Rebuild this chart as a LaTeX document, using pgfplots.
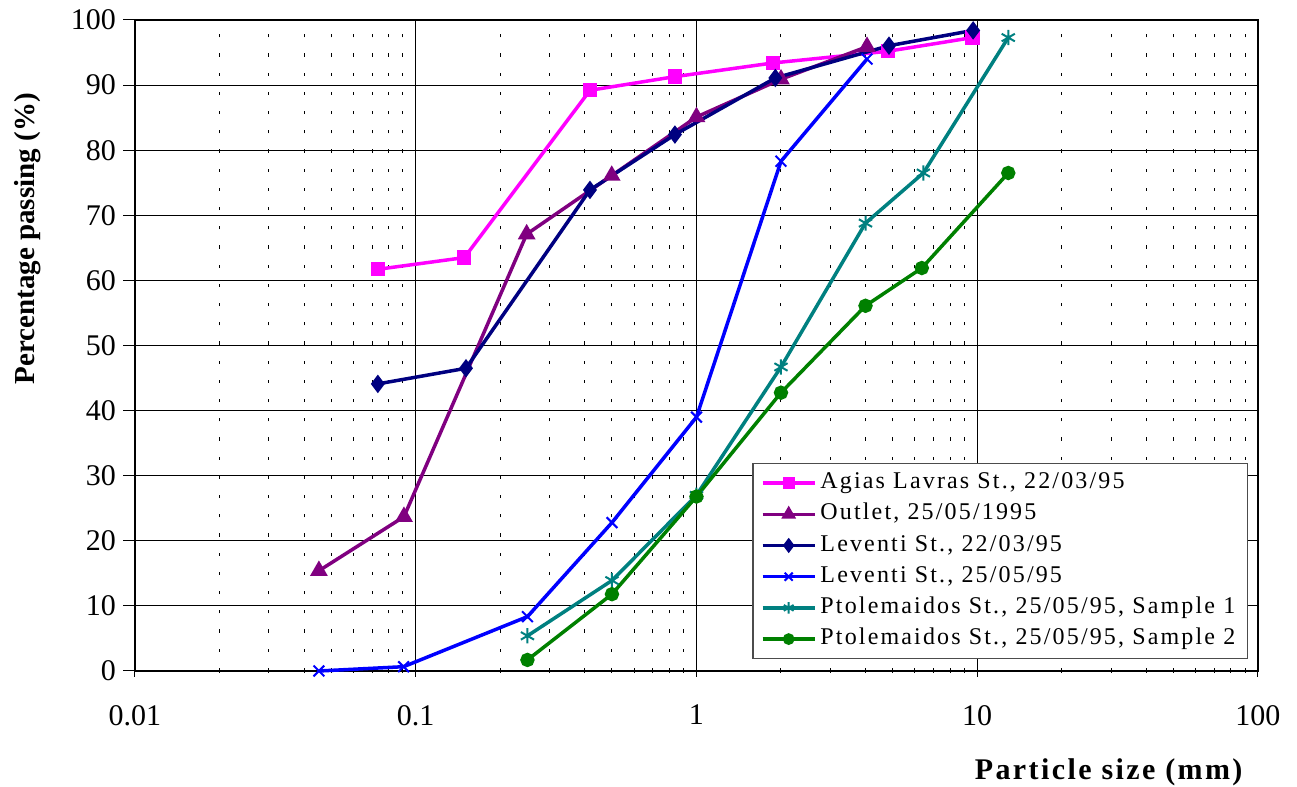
\documentclass[border=0pt]{standalone}
\usepackage{fontspec}
\setmainfont{Liberation Serif}
\newfontfamily\lsfont{Liberation Serif}[LetterSpace=9.0]
\newfontfamily\lsfontX{Liberation Serif}[LetterSpace=8.0]
\usepackage{pgfplots}
\pgfplotsset{compat=1.18}
\definecolor{cMag}{RGB}{255,0,255}
\definecolor{cPur}{RGB}{128,0,128}
\definecolor{cNavy}{RGB}{0,0,128}
\definecolor{cBlue}{RGB}{0,0,255}
\definecolor{cTeal}{RGB}{0,128,128}
\definecolor{cGreen}{RGB}{0,128,0}
\begin{document}
\begin{tikzpicture}
\begin{axis}[
  name=ax, at={(0,0)}, anchor=south west,
  scale only axis, width=561.5pt, height=325.5pt,
  xmode=log, xmin=0.01, xmax=100, ymin=0, ymax=100,
  clip=false,
  xtick={0.01,0.1,1,10,100}, xticklabels={0.01,0.1,1,10,100},
  minor xtick={0.02,0.03,0.04,0.05,0.06,0.07,0.08,0.09,0.2,0.3,0.4,0.5,0.6,0.7,0.8,0.9,2,3,4,5,6,7,8,9,20,30,40,50,60,70,80,90},
  ytick={0,10,...,100},
  xmajorgrids, ymajorgrids, xminorgrids,
  major grid style={black, line width=0.5pt},
  minor grid style={black, line width=0.5pt, dash pattern=on 1.6pt off 8pt},
  axis line style={black, line width=0.6pt},
  xtick pos=left, ytick pos=left,
  tick style={black, line width=0.5pt},
  ytick align=outside, xtick align=center,
  major tick length=6pt, minor tick length=2pt,
  tick label style={font=\fontsize{15}{18}\selectfont},
  xticklabel style={yshift=-10.5pt},
  /pgf/number format/assume math mode=true,
  xlabel={Particle size (mm)},
  xlabel style={font=\lsfontX\bfseries\fontsize{15}{18}\selectfont, at={(axis description cs:0.867,-0.155)}, anchor=center},
  ylabel={Percentage passing (\%)},
  ylabel style={font=\bfseries\fontsize{14.5}{17}\selectfont, at={(axis description cs:-0.0953,0.664)}, anchor=center},
  legend style={at={(axis description cs:0.991,0.018)}, anchor=south east,
    draw=black!70, line width=0.6pt, fill=white,
    font=\lsfont\fontsize{12}{13}\selectfont,
    inner xsep=4pt, inner ysep=2pt, row sep=0pt,
    nodes={inner sep=2pt, text height=8.6pt, text depth=3pt}},
  legend cell align=left,
  legend image code/.code={\draw[mark repeat=2, mark phase=2, every mark/.append style={scale=0.75}] plot coordinates {(0pt,0pt) (13pt,0pt) (26pt,0pt)};},
]
\addplot[color=cMag, line width=1.75pt, mark=square*, mark size=2.7pt, mark options={solid}] coordinates {
(0.0732,61.7) (0.149,63.5) (0.4175,89.2) (0.838,91.3) (1.873,93.4) (4.81,95.2) (9.63,97.3)};
\addlegendentry{Agias Lavras St., 22/03/95}
\addplot[color=cPur, line width=1.75pt, mark=triangle*, mark size=3.4pt, mark options={solid}] coordinates {
(0.0452,15.4) (0.0908,23.7) (0.2484,67.1) (0.499,76.1) (1.0,85.1) (2.0,90.9) (4.05,95.9)};
\addlegendentry{Outlet, 25/05/1995}
\addplot[color=cNavy, line width=1.75pt, mark=diamond*, mark size=3.2pt, mark options={solid}] coordinates {
(0.0733,44.1) (0.151,46.5) (0.4175,73.9) (0.838,82.4) (1.91,91.1) (4.85,96.05) (9.67,98.4)};
\addlegendentry{Leventi St., 22/03/95}
\addplot[color=cBlue, line width=1.75pt, mark=x, mark size=3.8pt, mark options={solid, line width=1pt}] coordinates {
(0.0452,0.0) (0.0905,0.66) (0.25,8.35) (0.5,22.8) (1.0,39.0) (2.0,78.3) (4.05,94.0)};
\addlegendentry{Leventi St., 25/05/95}
\addplot[color=cTeal, line width=1.75pt, mark=asterisk, mark size=3.8pt, mark options={solid, line width=1pt}] coordinates {
(0.25,5.4) (0.5,13.9) (1.0,27.0) (2.0,46.7) (4.0,68.8) (6.43,76.5) (12.9,97.3)};
\addlegendentry{Ptolemaidos St., 25/05/95, Sample 1}
\addplot[color=cGreen, line width=1.75pt, mark=*, mark size=2.7pt, mark options={solid}] coordinates {
(0.25,1.7) (0.5,11.8) (1.0,26.8) (2.0,42.75) (4.0,56.1) (6.35,61.9) (12.9,76.5)};
\addlegendentry{Ptolemaidos St., 25/05/95, Sample 2}
\end{axis}
\pgfresetboundingbox
\path (-67.5pt,-58pt) rectangle (581pt,335.5pt);
\end{tikzpicture}
\end{document}
